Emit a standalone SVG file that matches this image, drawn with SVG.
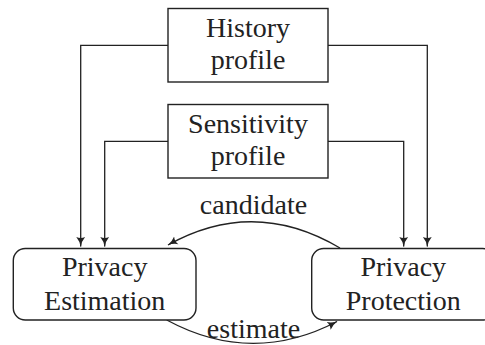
<svg xmlns="http://www.w3.org/2000/svg" width="485" height="345" viewBox="0 0 485 345">
  <style>
    .box { fill: #fff; stroke: #222; stroke-width: 1.4; }
    .wire { fill: none; stroke: #222; stroke-width: 1.3; }
    .lbl { font-family: "Liberation Serif", "Times New Roman", serif; font-size: 28px; fill: #222; text-anchor: middle; }
  </style>
  <defs>
    <marker id="arrow" viewBox="0 0 10 10" refX="9.5" refY="5" markerWidth="10" markerHeight="10" markerUnits="userSpaceOnUse" orient="auto">
      <path d="M0,0.6 Q4,4 10,5 Q4,6 0,9.4 Q2.2,5 0,0.6 Z" fill="#222"/>
    </marker>
  </defs>

  <!-- connectors -->
  <g id="connectors">
    <path class="wire" d="M168,45.3 H80.7 V246.5" marker-end="url(#arrow)"/>
    <path class="wire" d="M328,45.3 H427.3 V246.5" marker-end="url(#arrow)"/>
    <path class="wire" d="M168,141.3 H104.7 V246.5" marker-end="url(#arrow)"/>
    <path class="wire" d="M328,141.3 H403.7 V246.5" marker-end="url(#arrow)"/>
    <path class="wire" d="M340,248 Q254,197 168,245" marker-end="url(#arrow)"/>
    <path class="wire" d="M166.7,320 Q252,366 337,321.5" marker-end="url(#arrow)"/>
    <text class="lbl" x="253.5" y="214">candidate</text>
    <text class="lbl" x="253.5" y="338">estimate</text>
  </g>

  <g id="history">
    <rect class="box" x="168" y="8.5" width="160" height="73.5"/>
    <text class="lbl" x="248" y="36.5">History</text>
    <text class="lbl" x="248" y="68.5">profile</text>
  </g>

  <g id="sensitivity">
    <rect class="box" x="168" y="104.5" width="160" height="73.5"/>
    <text class="lbl" x="248" y="132.5">Sensitivity</text>
    <text class="lbl" x="248" y="164.5">profile</text>
  </g>

  <g id="estimation">
    <rect class="box" x="13.3" y="248.5" width="182.7" height="71.5" rx="12" ry="12"/>
    <text class="lbl" x="104.7" y="275.5">Privacy</text>
    <text class="lbl" x="104.7" y="310">Estimation</text>
  </g>

  <g id="protection">
    <rect class="box" x="311.7" y="248.5" width="183" height="71.5" rx="12" ry="12"/>
    <text class="lbl" x="403.3" y="275.5">Privacy</text>
    <text class="lbl" x="403.3" y="310">Protection</text>
  </g>
</svg>
